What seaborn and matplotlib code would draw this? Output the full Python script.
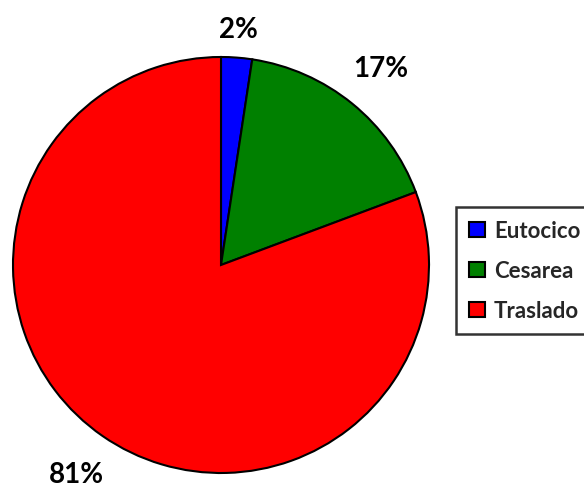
import matplotlib
matplotlib.use("Agg")
import matplotlib.pyplot as plt
import seaborn as sns
from matplotlib.patches import Patch

sns.set_theme(style="white")
plt.rcParams['font.family'] = ['Lato', 'DejaVu Sans']

categories = ["Eutocico", "Cesarea", "Traslado"]
values = [2.4, 16.9, 80.7]
colors = ["#0000FF", "#008000", "#FF0000"]
label_dist = [1.14, 1.22, 1.22]

fig = plt.figure(figsize=(5.84, 4.89), dpi=100)
ax = fig.add_axes([13/584, 15/489, 416/584, 416/489])
wedges, texts, autotexts = ax.pie(
    values, colors=colors, startangle=90, counterclock=False,
    autopct="%.0f%%", pctdistance=1.0, radius=1,
    wedgeprops=dict(edgecolor="black", linewidth=1.5),
    textprops=dict(fontsize=20, fontweight="bold", color="black"))
for t, d in zip(autotexts, label_dist):
    x, y = t.get_position()
    t.set_position((x * d, y * d))
    t.set_clip_on(False)
ax.set_xlim(-1, 1)
ax.set_ylim(-1, 1)
ax.set_aspect("equal")
ax.axis("off")

handles = [Patch(facecolor=c, edgecolor="black", linewidth=1.5) for c in colors]
leg = fig.legend(handles, categories, loc="upper left",
                 bbox_to_anchor=(456/584, 1 - 208/489),
                 frameon=True, fancybox=False, edgecolor="black",
                 prop=dict(size=16, weight="bold"),
                 handlelength=0.7, handleheight=0.7, handletextpad=0.4,
                 labelspacing=0.85, borderpad=0.6, borderaxespad=0)
leg.get_frame().set_linewidth(1.8)

fig.savefig("out.png", dpi=100)
